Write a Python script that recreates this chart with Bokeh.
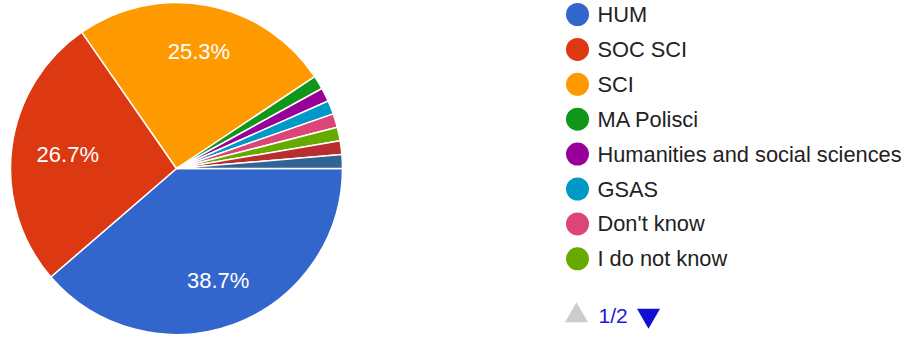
import math
from bokeh.plotting import figure
from bokeh.models import ColumnDataSource
from bokeh.core.properties import value
from bokeh.embed import file_html
from bokeh.resources import INLINE

# ---- data ----
categories = ["HUM", "SOC SCI", "SCI", "MA Polisci", "Humanities and social sciences",
              "GSAS", "Don't know", "I do not know", "(page 2 item A)", "(page 2 item B)"]
counts = [29, 20, 19, 1, 1, 1, 1, 1, 1, 1]
colors = ["#3366cc", "#dc3912", "#ff9900", "#109618", "#990099",
          "#0099c6", "#dd4477", "#66aa00", "#b82e2e", "#316395"]
legend_shown = 8
page_label = "1/2"

W, H = 907, 337
FONT = "Liberation Sans"

p = figure(width=W, height=H, x_range=(0, W), y_range=(0, H),
           output_backend="svg", toolbar_location=None,
           x_axis_location=None, y_axis_location=None, min_border=0)
p.grid.visible = False
p.outline_line_color = None
p.background_fill_color = "white"
p.border_fill_color = "white"

# ---- pie ----
cx, cy, R = 176, H - 168, 166
total = sum(counts)
starts, ends, mids = [], [], []
acc = 0.0
for c in counts:
    a0 = acc / total * 2 * math.pi
    acc += c
    a1 = acc / total * 2 * math.pi
    starts.append(-a0)
    ends.append(-a1)
    mids.append(-(a0 + a1) / 2)

src = ColumnDataSource(dict(start=starts, end=ends, color=colors))
p.wedge(x=cx, y=cy, radius=R, start_angle="start", end_angle="end",
        direction="clock", fill_color="color", line_color="white",
        line_width=1.5, source=src)

# percentage labels for slices large enough
lx, ly, lt = [], [], []
for c, m in zip(counts, mids):
    pct = c / total * 100
    if pct >= 5:
        r = 0.72 if abs(math.cos(m)) < 0.8 else 0.66
        lx.append(cx + r * R * math.cos(m))
        ly.append(cy + r * R * math.sin(m))
        lt.append(f"{pct:.1f}%")
p.text(x=lx, y=ly, text=lt, text_color="white", text_font=value(FONT),
       text_font_size="22px", text_align="center", text_baseline="middle")

# ---- legend (page 1) ----
row0, step = H - 14, 34.9
ys = [row0 - i * step for i in range(legend_shown)]
p.scatter(x=[577] * legend_shown, y=ys, size=23, marker="circle",
          fill_color=colors[:legend_shown], line_color=None)
p.text(x=[597] * legend_shown, y=ys, text=categories[:legend_shown],
       text_color="#222222", text_font=value(FONT), text_font_size="21.8px",
       text_align="left", text_baseline="middle")

# ---- pagination ----
py = H - 315
p.scatter(x=[576], y=[py], marker="triangle", size=23, fill_color="#cccccc", line_color=None)
p.text(x=[598], y=[py], text=[page_label], text_color="#1a1adb", text_font=value(FONT),
       text_font_size="21px", text_align="left", text_baseline="middle")
p.scatter(x=[648], y=[py], marker="inverted_triangle", size=23, fill_color="#1010d0", line_color=None)

open("out.html", "w").write(file_html(p, INLINE))
